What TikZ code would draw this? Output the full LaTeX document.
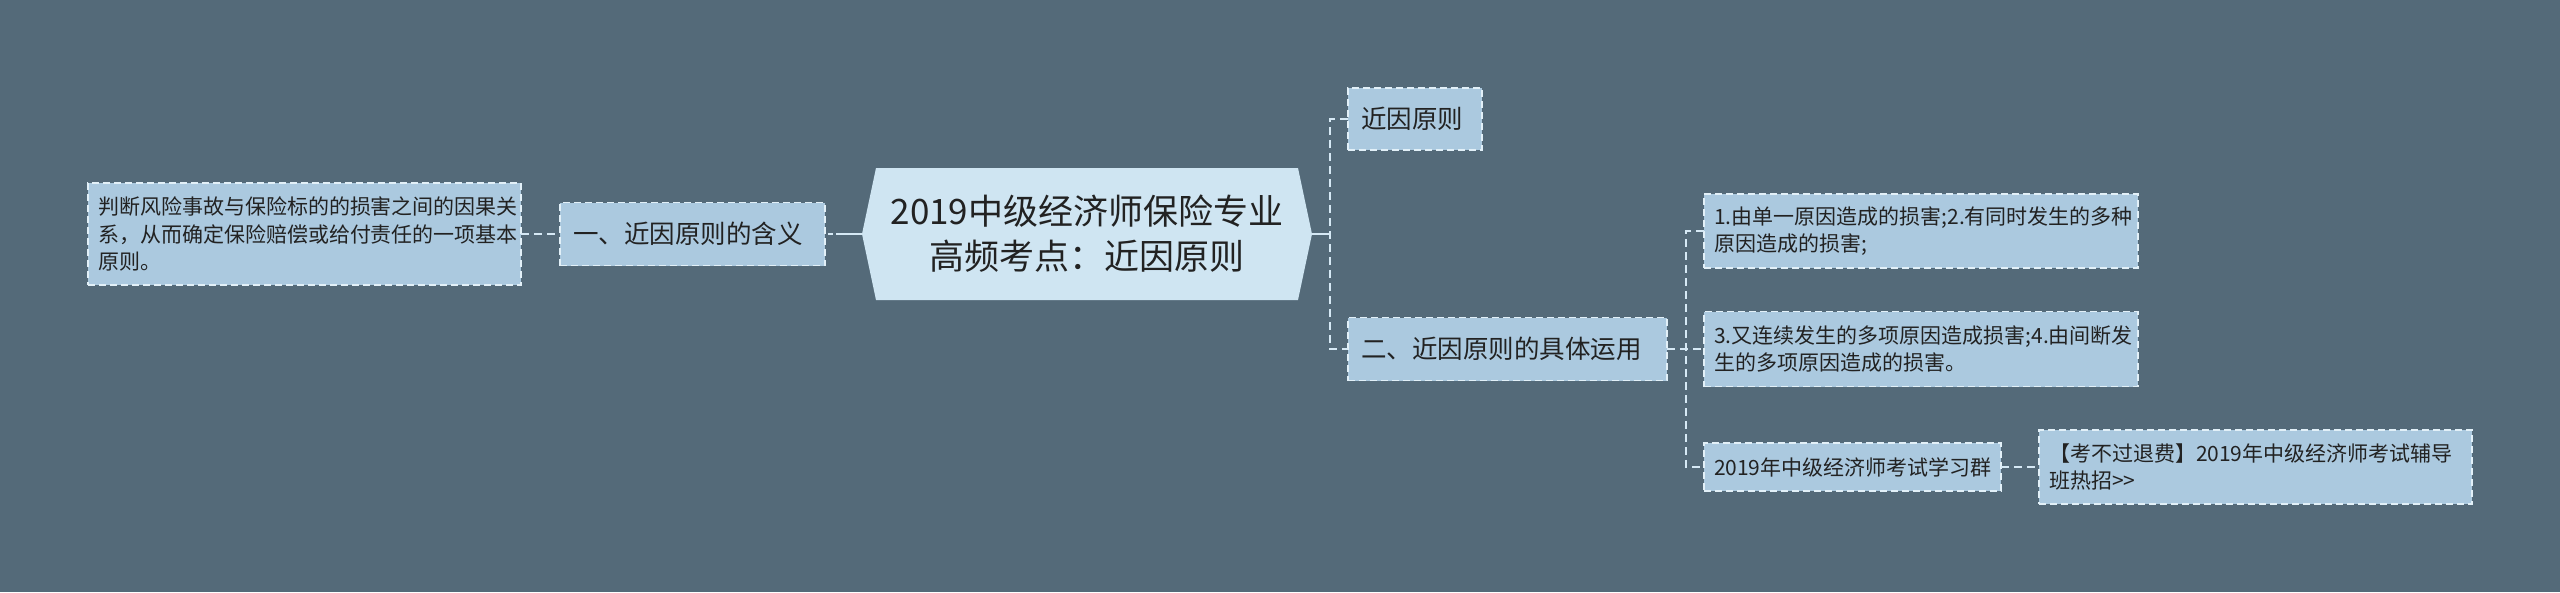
\documentclass[tikz,border=0pt]{standalone}
\usepackage{fontspec}
\newfontfamily\cjk{Noto Sans CJK SC}
\usetikzlibrary{backgrounds}
\definecolor{bgc}{RGB}{84,106,121}
\definecolor{boxc}{RGB}{171,201,223}
\definecolor{rootc}{RGB}{207,229,242}
\definecolor{bordc}{RGB}{226,240,248}
\definecolor{linec}{RGB}{214,233,245}
\definecolor{txtc}{RGB}{34,34,34}
\tikzset{
  basebox/.style={draw=bordc, fill=boxc, line width=1.8pt, dash pattern=on 7pt off 4pt,
    inner ysep=0pt, outer sep=0pt, align=left, text=txtc, anchor=center},
  smallbox/.style={basebox, inner xsep=10pt, font=\cjk\fontsize{21}{27.5}\selectfont},
  midbox/.style={basebox, inner xsep=13pt, font=\cjk\fontsize{25.5}{32}\selectfont},
  rootbox/.style={draw=none, fill=none, inner sep=0pt, outer sep=0pt, align=center,
    text=txtc, font=\cjk\fontsize{35}{45}\selectfont},
  dconn/.style={draw=linec, line width=2.4pt, dash pattern=on 8pt off 5pt},
  sconn/.style={draw=linec, line width=2.4pt}
}
\begin{document}
\begin{tikzpicture}[x=1pt,y=-1pt]
\useasboundingbox (0,0) rectangle (2560,592);
% nodes
\node[smallbox, text width=413pt, minimum height=102pt] (def) at (304.5,234)
  {判断风险事故与保险标的的损害之间的因果关\\系，从而确定保险赔偿或给付责任的一项基本\\原则。};
\node[midbox, text width=239pt, minimum height=63pt] (hl) at (692.5,234) {一、近因原则的含义};
\node[rootbox, minimum width=450pt, minimum height=132pt] (root) at (1087,234)
  {2019中级经济师保险专业\\高频考点：近因原则};
\node[midbox, text width=108pt, minimum height=62pt] (near) at (1415,119) {近因原则};
\node[midbox, text width=293pt, minimum height=63pt] (app) at (1507.5,349) {二、近因原则的具体运用};
\node[smallbox, text width=414pt, minimum height=74pt] (c1) at (1921,231)
  {1.由单一原因造成的损害;2.有同时发生的多种\\原因造成的损害;};
\node[smallbox, text width=414pt, minimum height=75pt] (c2) at (1921,349)
  {3.又连续发生的多项原因造成损害;4.由间断发\\生的多项原因造成的损害。};
\node[smallbox, text width=277pt, minimum height=48pt] (c3) at (1852.5,467)
  {2019年中级经济师考试学习群};
\node[smallbox, text width=413pt, minimum height=74pt] (c4) at (2255.5,467)
  {【考不过退费】2019年中级经济师考试辅导\\班热招>>};
\coordinate (j1) at (1330,234);
\coordinate (j2) at (1686,349);
% background and root shape
\begin{scope}[on background layer]
\fill[bgc] (0,0) rectangle (2560,592);
\fill[rootc] (root.west) -- ([xshift=14pt]root.north west) -- ([xshift=-14pt]root.north east)
  -- (root.east) -- ([xshift=-14pt]root.south east) -- ([xshift=14pt]root.south west) -- cycle;
\end{scope}
% connectors
\draw[dconn] (def.east) -- (hl.west);
\draw[sconn, dash pattern=on 26pt off 3pt on 5pt off 10pt] (root.west) -- (hl.east);
\draw[sconn] (root.east) -- (j1);
\draw[dconn] (near.west) -- (near.west -| j1) |- (app.west);
\draw[dconn] (app.east) -- (c2.west);
\draw[dconn] (c1.west) -- (c1.west -| j2) |- (c3.west);
\draw[dconn] (c3.east) -- (c4.west);
\end{tikzpicture}
\end{document}
